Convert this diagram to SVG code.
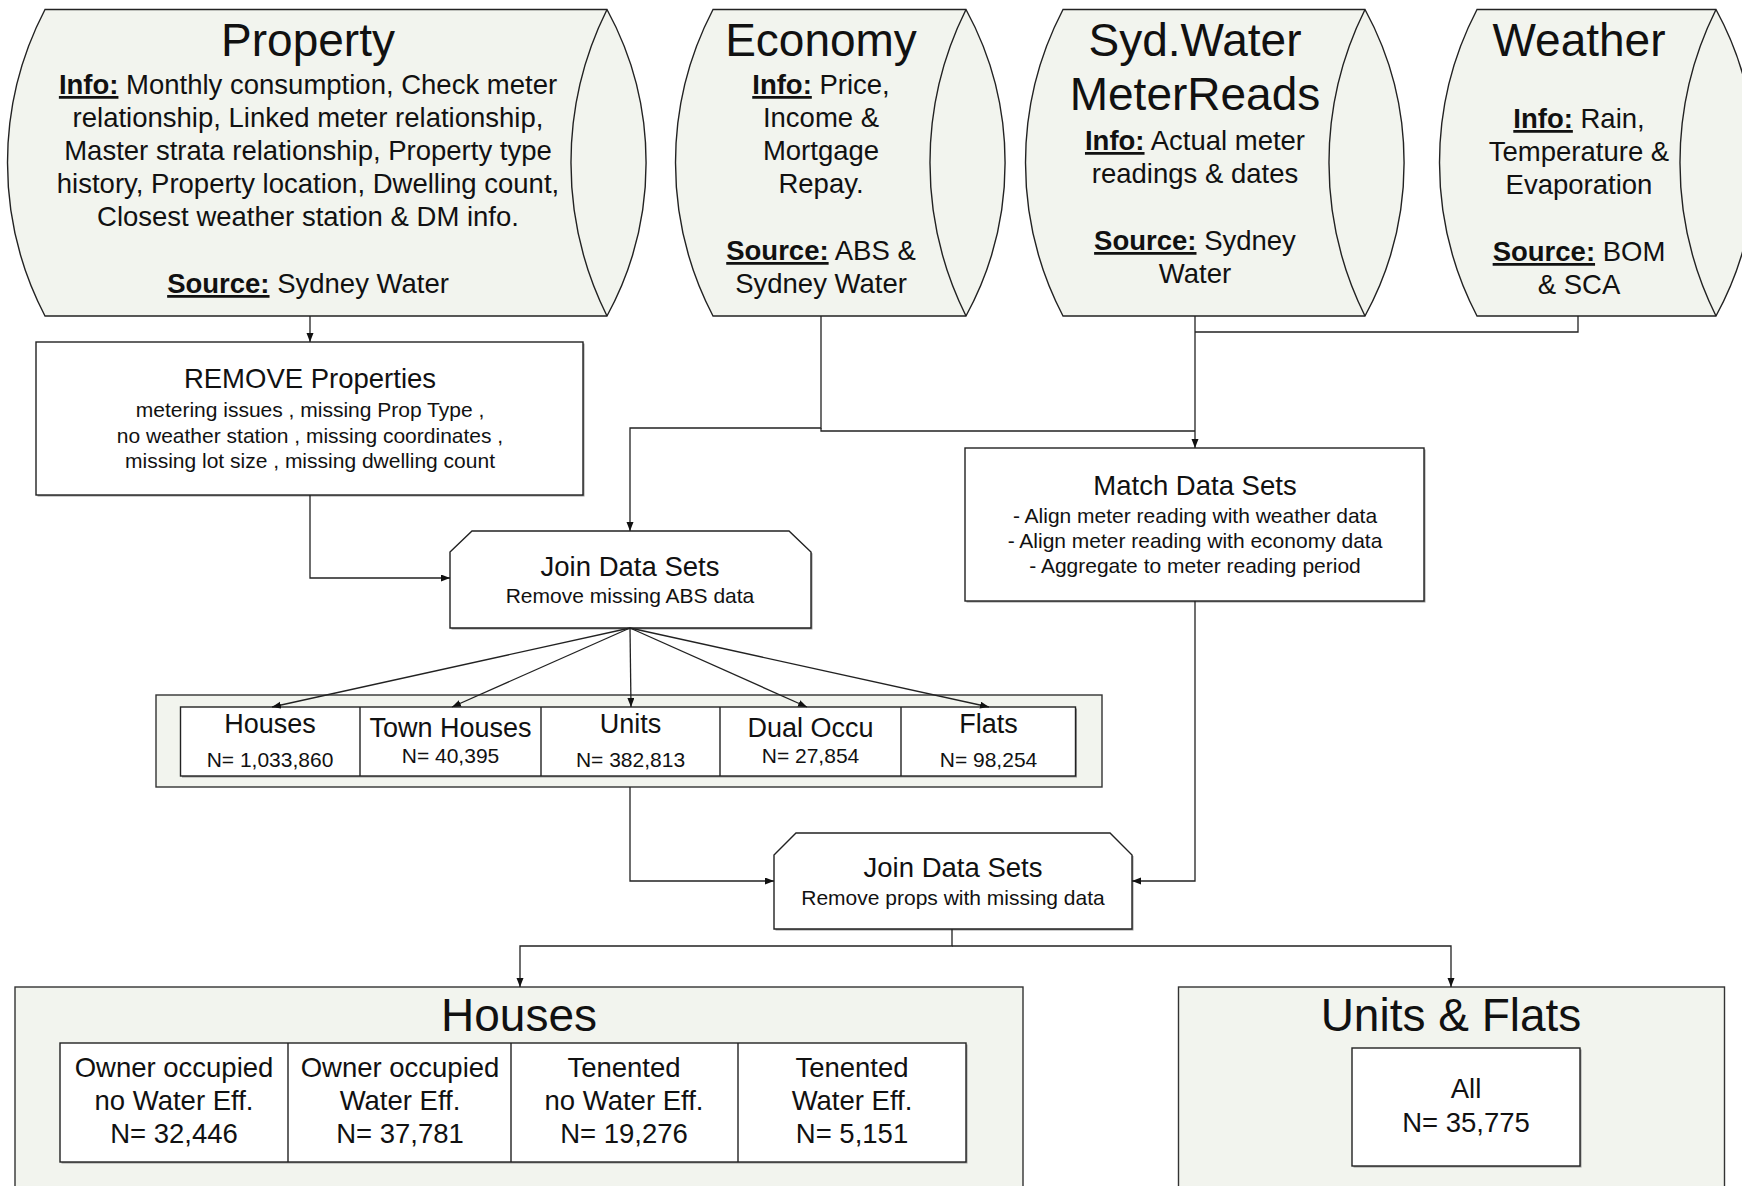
<svg xmlns="http://www.w3.org/2000/svg" width="1742" height="1186" viewBox="0 0 1742 1186">
<style>
text{font-family:"Liberation Sans",Arial,sans-serif;fill:#111;text-anchor:middle}
.cyl{fill:#f2f4ee;stroke:#222;stroke-width:1.4}
.arc{fill:none;stroke:#222;stroke-width:1.4}
.cont{fill:#f2f4ee;stroke:#333;stroke-width:1.4}
.box{fill:#fff;stroke:#222;stroke-width:1.4}
.sh{fill:#999;stroke:none}
.div{stroke:#222;stroke-width:1.4}
.t46{font-size:46px}
.t27{font-size:27.5px}
.t21{font-size:21px}
.b{font-weight:bold;text-decoration:underline}
.con{fill:none;stroke:#222;stroke-width:1.3}
</style>
<defs>
<marker id="ah" markerUnits="userSpaceOnUse" markerWidth="10" markerHeight="8" refX="9" refY="3.5" orient="auto">
<path d="M0,0 L9,3.5 L0,7 z" fill="#111"/>
</marker>
</defs>

<g id="property">
<path class="cyl" d="M45,9.5 H607 A320,320 0 0 1 607,316 H45 A332,332 0 0 1 45,9.5 Z"/>
<path class="arc" d="M607,9.5 A344,344 0 0 0 607,316"/>
<text class="t46" x="308" y="56">Property</text>
<text class="t27" x="308" y="94"><tspan class="b">Info:</tspan> Monthly consumption, Check meter</text>
<text class="t27" x="308" y="127">relationship, Linked meter relationship,</text>
<text class="t27" x="308" y="160">Master strata relationship, Property type</text>
<text class="t27" x="308" y="193">history, Property location, Dwelling count,</text>
<text class="t27" x="308" y="226">Closest weather station &amp; DM info.</text>
<text class="t27" x="308" y="293"><tspan class="b">Source:</tspan> Sydney Water</text>
</g>

<g id="economy">
<path class="cyl" d="M713,9.5 H966 A320,320 0 0 1 966,316 H713 A332,332 0 0 1 713,9.5 Z"/>
<path class="arc" d="M966,9.5 A344,344 0 0 0 966,316"/>
<text class="t46" x="821" y="56">Economy</text>
<text class="t27" x="821" y="94"><tspan class="b">Info:</tspan> Price,</text>
<text class="t27" x="821" y="127">Income &amp;</text>
<text class="t27" x="821" y="160">Mortgage</text>
<text class="t27" x="821" y="193">Repay.</text>
<text class="t27" x="821" y="260"><tspan class="b">Source:</tspan> ABS &amp;</text>
<text class="t27" x="821" y="293">Sydney Water</text>
</g>

<g id="sydwater">
<path class="cyl" d="M1063,9.5 H1365 A320,320 0 0 1 1365,316 H1063 A332,332 0 0 1 1063,9.5 Z"/>
<path class="arc" d="M1365,9.5 A344,344 0 0 0 1365,316"/>
<text class="t46" x="1195" y="56">Syd.Water</text>
<text class="t46" x="1195" y="110">MeterReads</text>
<text class="t27" x="1195" y="150"><tspan class="b">Info:</tspan> Actual meter</text>
<text class="t27" x="1195" y="183">readings &amp; dates</text>
<text class="t27" x="1195" y="250"><tspan class="b">Source:</tspan> Sydney</text>
<text class="t27" x="1195" y="283">Water</text>
</g>

<g id="weather">
<path class="cyl" d="M1477,9.5 H1716 A320,320 0 0 1 1716,316 H1477 A332,332 0 0 1 1477,9.5 Z"/>
<path class="arc" d="M1716,9.5 A344,344 0 0 0 1716,316"/>
<text class="t46" x="1579" y="56">Weather</text>
<text class="t27" x="1579" y="128"><tspan class="b">Info:</tspan> Rain,</text>
<text class="t27" x="1579" y="161">Temperature &amp;</text>
<text class="t27" x="1579" y="194">Evaporation</text>
<text class="t27" x="1579" y="261"><tspan class="b">Source:</tspan> BOM</text>
<text class="t27" x="1579" y="294">&amp; SCA</text>
</g>

<g id="remove">
<rect class="sh" x="37.5" y="343.5" width="547" height="153"/>
<rect class="box" x="36" y="342" width="547" height="153"/>
<text class="t27" x="310" y="388">REMOVE Properties</text>
<text class="t21" x="310" y="417">metering issues , missing Prop Type ,</text>
<text class="t21" x="310" y="443">no weather station , missing coordinates ,</text>
<text class="t21" x="310" y="468">missing lot size , missing dwelling count</text>
</g>

<g id="match">
<rect class="sh" x="966.5" y="449.5" width="459" height="153"/>
<rect class="box" x="965" y="448" width="459" height="153"/>
<text class="t27" x="1195" y="495">Match Data Sets</text>
<text class="t21" x="1195" y="523">- Align meter reading with weather data</text>
<text class="t21" x="1195" y="548">- Align meter reading with economy data</text>
<text class="t21" x="1195" y="573">- Aggregate to meter reading period</text>
</g>

<g id="join1">
<polygon class="sh" points="451.5,553.5 473.5,532.5 790.5,532.5 812.5,553.5 812.5,629.5 451.5,629.5"/>
<polygon class="box" points="450,552 472,531 789,531 811,552 811,628 450,628"/>
<text class="t27" x="630" y="576">Join Data Sets</text>
<text class="t21" x="630" y="603">Remove missing ABS data</text>
</g>

<g id="categories">
<rect class="cont" x="156" y="695" width="946" height="92"/>
<rect class="sh" x="182" y="708.5" width="895" height="69"/>
<rect class="box" x="180.5" y="707" width="895" height="69"/>
<line class="div" x1="360" y1="707" x2="360" y2="776"/>
<line class="div" x1="541" y1="707" x2="541" y2="776"/>
<line class="div" x1="720" y1="707" x2="720" y2="776"/>
<line class="div" x1="901" y1="707" x2="901" y2="776"/>
<text font-size="27" x="270" y="733">Houses</text>
<text class="t21" x="270" y="767">N= 1,033,860</text>
<text font-size="27" x="450.5" y="737">Town Houses</text>
<text class="t21" x="450.5" y="763">N= 40,395</text>
<text font-size="27" x="630.5" y="733">Units</text>
<text class="t21" x="630.5" y="767">N= 382,813</text>
<text font-size="27" x="810.5" y="737">Dual Occu</text>
<text class="t21" x="810.5" y="763">N= 27,854</text>
<text font-size="27" x="988.5" y="733">Flats</text>
<text class="t21" x="988.5" y="767">N= 98,254</text>
</g>

<g id="join2">
<polygon class="sh" points="775.5,856.5 797.5,834.5 1111.5,834.5 1133.5,856.5 1133.5,930.5 775.5,930.5"/>
<polygon class="box" points="774,855 796,833 1110,833 1132,855 1132,929 774,929"/>
<text class="t27" x="953" y="877">Join Data Sets</text>
<text class="t21" x="953" y="905">Remove props with missing data</text>
</g>

<g id="houses">
<rect class="cont" x="15" y="987" width="1008" height="230"/>
<text class="t46" x="519" y="1031">Houses</text>
<rect class="sh" x="61.5" y="1044.5" width="906" height="119"/>
<rect class="box" x="60" y="1043" width="906" height="119"/>
<line class="div" x1="288" y1="1043" x2="288" y2="1162"/>
<line class="div" x1="511" y1="1043" x2="511" y2="1162"/>
<line class="div" x1="738" y1="1043" x2="738" y2="1162"/>
<text class="t27" x="174" y="1077">Owner occupied</text>
<text class="t27" x="174" y="1110">no Water Eff.</text>
<text class="t27" x="174" y="1143">N= 32,446</text>
<text class="t27" x="400" y="1077">Owner occupied</text>
<text class="t27" x="400" y="1110">Water Eff.</text>
<text class="t27" x="400" y="1143">N= 37,781</text>
<text class="t27" x="624" y="1077">Tenented</text>
<text class="t27" x="624" y="1110">no Water Eff.</text>
<text class="t27" x="624" y="1143">N= 19,276</text>
<text class="t27" x="852" y="1077">Tenented</text>
<text class="t27" x="852" y="1110">Water Eff.</text>
<text class="t27" x="852" y="1143">N= 5,151</text>
</g>

<g id="unitsflats">
<rect class="cont" x="1178.5" y="987" width="546" height="230"/>
<text class="t46" x="1451" y="1031">Units &amp; Flats</text>
<rect class="sh" x="1353.5" y="1049.5" width="228" height="118"/>
<rect class="box" x="1352" y="1048" width="228" height="118"/>
<text class="t27" x="1466" y="1098">All</text>
<text class="t27" x="1466" y="1132">N= 35,775</text>
</g>

<g id="connectors">
<path class="con" d="M310,316 V342" marker-end="url(#ah)"/>
<path class="con" d="M310,495 V578 H450" marker-end="url(#ah)"/>
<path class="con" d="M821,316 V428 H630 V531" marker-end="url(#ah)"/>
<path class="con" d="M821,428 V431 H1195"/>
<path class="con" d="M1195,316 V448" marker-end="url(#ah)"/>
<path class="con" d="M1578,316 V332 H1195"/>
<path class="con" d="M630,628 L272,707" marker-end="url(#ah)"/>
<path class="con" d="M630,628 L452,707" marker-end="url(#ah)"/>
<path class="con" d="M630,628 L631,707" marker-end="url(#ah)"/>
<path class="con" d="M630,628 L807,707" marker-end="url(#ah)"/>
<path class="con" d="M630,628 L989,707" marker-end="url(#ah)"/>
<path class="con" d="M630,787 V881 H774" marker-end="url(#ah)"/>
<path class="con" d="M1195,601 V881 H1132" marker-end="url(#ah)"/>
<path class="con" d="M952,929 V946 H520 V987" marker-end="url(#ah)"/>
<path class="con" d="M952,946 H1451 V987" marker-end="url(#ah)"/>
</g>
</svg>
